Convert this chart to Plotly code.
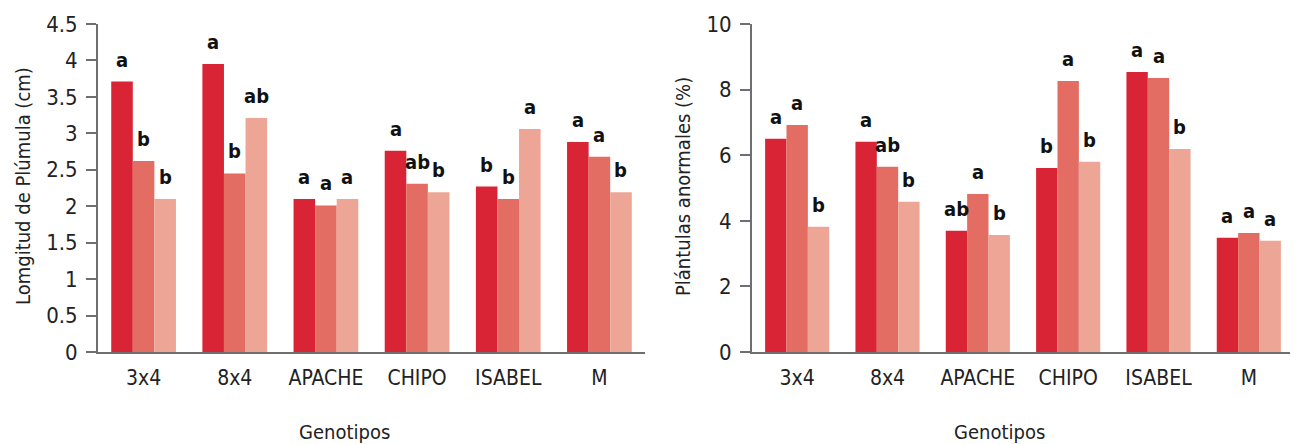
import plotly.graph_objects as go

genotipos = ["3x4", "8x4", "APACHE", "CHIPO", "ISABEL", "M"]

# Left chart: Longitud de plúmula (cm), three treatments
plumula_s1 = [3.71, 3.95, 2.10, 2.76, 2.27, 2.88]
plumula_s2 = [2.62, 2.45, 2.01, 2.31, 2.10, 2.68]
plumula_s3 = [2.10, 3.21, 2.10, 2.19, 3.06, 2.19]
plumula_l1 = ["a", "a", "a", "a", "b", "a"]
plumula_l2 = ["b", "b", "a", "ab", "b", "a"]
plumula_l3 = ["b", "ab", "a", "b", "a", "b"]
plumula_ticks = [0, 0.5, 1, 1.5, 2, 2.5, 3, 3.5, 4, 4.5]
plumula_ticktext = ["0", "0.5", "1", "1.5", "2", "2.5", "3", "3.5", "4", "4.5"]

# Right chart: Plántulas anormales (%)
anorm_s1 = [6.50, 6.41, 3.70, 5.61, 8.54, 3.48]
anorm_s2 = [6.92, 5.65, 4.82, 8.26, 8.35, 3.63]
anorm_s3 = [3.82, 4.58, 3.57, 5.80, 6.19, 3.39]
anorm_l1 = ["a", "a", "ab", "b", "a", "a"]
anorm_l2 = ["a", "ab", "a", "a", "a", "a"]
anorm_l3 = ["b", "b", "b", "b", "b", "a"]
anorm_ticks = [0, 2, 4, 6, 8, 10]

colors = ["#D92436", "#E36D62", "#EDA596"]
AXIS = "#6f6f73"
TXT = "#222222"
FONT = "DejaVu Sans Condensed, Roboto, sans-serif"

# page body has an 8px margin, so the figure is drawn 8px in from top-left
W, H = 1290, 436
T, B = 16, 92
PH = H - T - B

fig = go.Figure()

left_dom = [90 / W, 637 / W]
right_dom = [744 / W, 1286 / W]
bargap = 0.29
n_bars = 3

def py(p):
    """paper y for a pixel row measured from figure top"""
    return (H - B - p) / PH

def add_group(series, labels, xa, ya, dom):
    plot_w = (dom[1] - dom[0]) * W
    cat_w = plot_w / len(genotipos)
    bar_w = cat_w * (1 - bargap) / n_bars
    for i, (vals, labs) in enumerate(zip(series, labels)):
        fig.add_trace(go.Bar(
            x=genotipos, y=vals, marker_color=colors[i], marker_line_width=0,
            xaxis=xa, yaxis=ya, showlegend=False, hoverinfo="skip"))
        for g, v, t in zip(genotipos, vals, labs):
            fig.add_annotation(
                x=g, y=v, xref=xa, yref=ya, text=t, showarrow=False,
                xshift=(i - 1) * bar_w, yshift=8, yanchor="bottom",
                font=dict(family=FONT, size=20, color="#111111", weight="bold"))

add_group([plumula_s1, plumula_s2, plumula_s3],
          [plumula_l1, plumula_l2, plumula_l3], "x", "y", left_dom)
add_group([anorm_s1, anorm_s2, anorm_s3],
          [anorm_l1, anorm_l2, anorm_l3], "x2", "y2", right_dom)

xcommon = dict(showline=True, linecolor=AXIS, linewidth=2, ticks="",
               tickfont=dict(family=FONT, size=21, color=TXT),
               ticklabelstandoff=6,
               showgrid=False, zeroline=False, automargin=False)
ycommon = dict(showline=True, linecolor=AXIS, linewidth=2, ticks="outside",
               ticklen=10, tickwidth=2, tickcolor=AXIS,
               tickfont=dict(family=FONT, size=22, color=TXT),
               ticklabelstandoff=4,
               showgrid=False, zeroline=False, automargin=False)

fig.update_layout(
    width=W, height=H,
    margin=dict(l=0, r=0, t=T, b=B),
    plot_bgcolor="white", paper_bgcolor="white",
    barmode="group", bargap=bargap, bargroupgap=0,
    xaxis=dict(domain=left_dom, anchor="y", **xcommon),
    xaxis2=dict(domain=right_dom, anchor="y2", **xcommon),
    yaxis=dict(anchor="x", range=[0, 4.5], tickvals=plumula_ticks,
               ticktext=plumula_ticktext, **ycommon),
    yaxis2=dict(anchor="x2", range=[0, 10], tickvals=anorm_ticks, **ycommon),
)

# axis titles
fig.add_annotation(x=15 / W, y=py(178), xref="paper", yref="paper",
                   text="Lomgitud de Plúmula (cm)", textangle=-90,
                   showarrow=False, xanchor="center", yanchor="middle",
                   font=dict(family=FONT, size=20, color=TXT))
fig.add_annotation(x=675 / W, y=py(179), xref="paper", yref="paper",
                   text="Plántulas anormales (%)", textangle=-90,
                   showarrow=False, xanchor="center", yanchor="middle",
                   font=dict(family=FONT, size=20, color=TXT))
for xc in [337 / W, 991 / W]:
    fig.add_annotation(x=xc, y=py(424), xref="paper", yref="paper",
                       xanchor="center", yanchor="middle", text="Genotipos",
                       showarrow=False,
                       font=dict(family=FONT, size=20, color=TXT))

fig.write_html("out.html")
